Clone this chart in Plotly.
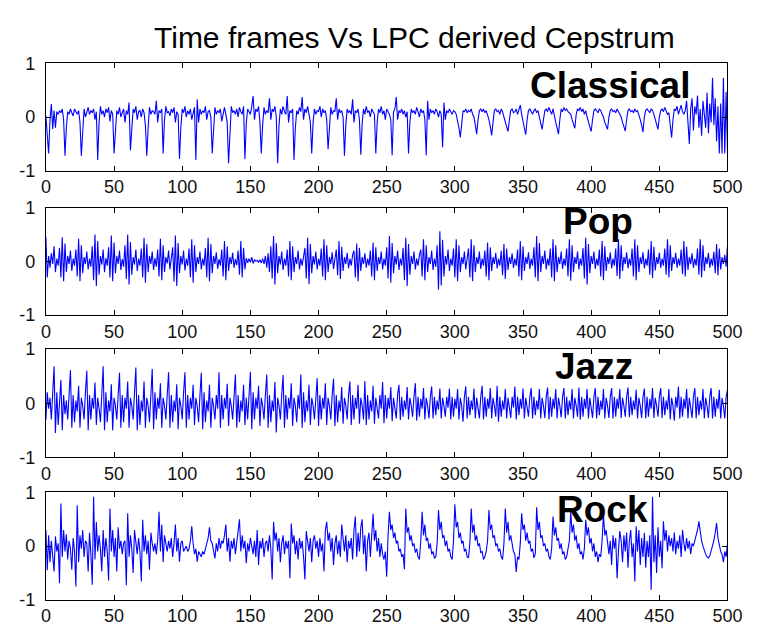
import plotly.graph_objects as go

TITLE = "Time frames Vs LPC derived Cepstrum"
GENRES = ["Classical", "Pop", "Jazz", "Rock"]
X_TICKS = [0, 50, 100, 150, 200, 250, 300, 350, 400, 450, 500]
Y_TICKS = [-1, 0, 1]
Y_TICK_LABELS = ["-1", "0", "1"]

CLASSICAL = [
    0.02, -0.32, -0.68, -0.05, 0.24, -0.22, 0.12, -0.2, 0.1, 0.05,
    0.12, 0.08, 0.15, -0.05, -0.72, -0.2, 0.1, 0.05, 0.15, 0.08,
    0.02, 0.15, 0.1, 0.05, 0.12, -0.1, -0.72, -0.25, 0.15, 0.0,
    0.1, 0.18, 0.05, 0.12, 0.08, 0.15, -0.05, 0.1, -0.8, -0.1,
    0.2, 0.05, 0.12, 0.0, 0.15, 0.08, 0.18, -0.08, 0.12, 0.05,
    -0.68, -0.15, 0.12, 0.05, 0.18, 0.0, 0.1, 0.15, -0.1, 0.12,
    0.05, 0.27, -0.62, -0.12, 0.15, 0.08, 0.2, -0.05, 0.1, 0.12,
    0.0, 0.15, 0.08, -0.15, -0.72, -0.2, 0.18, 0.05, 0.12, 0.1,
    0.05, 0.3, -0.1, 0.12, 0.08, 0.15, -0.68, -0.05, 0.2, 0.08,
    0.1, 0.02, 0.15, 0.08, 0.18, -0.1, 0.1, 0.05, -0.78, -0.2,
    0.15, 0.08, 0.2, 0.0, 0.12, 0.05, 0.15, -0.05, 0.1, 0.18,
    -0.8, 0.33, -0.1, 0.15, 0.05, 0.12, 0.08, 0.2, -0.05, 0.1,
    0.12, 0.0, -0.68, -0.15, 0.18, 0.05, 0.12, 0.08, 0.15, -0.08,
    0.1, 0.18, 0.05, -0.1, -0.86, -0.2, 0.2, 0.08, 0.12, 0.05,
    0.15, 0.0, 0.18, 0.1, 0.05, 0.2, -0.78, -0.12, 0.15, 0.1,
    0.05, 0.2, 0.39, -0.05, 0.15, 0.1, 0.2, -0.1, -0.68, -0.15,
    0.18, 0.05, 0.12, 0.08, 0.35, -0.05, 0.15, 0.1, 0.2, 0.0,
    -0.86, -0.15, 0.15, 0.05, 0.2, 0.1, 0.05, 0.39, -0.1, 0.12,
    0.08, 0.15, -0.8, -0.2, 0.12, 0.05, 0.18, 0.1, 0.37, -0.05,
    0.15, 0.08, 0.2, 0.05, -0.1, -0.68, -0.1, 0.15, 0.05, 0.12,
    0.1, 0.2, 0.0, 0.15, 0.08, 0.12, -0.05, -0.6, -0.15, 0.18,
    0.05, 0.12, 0.1, 0.35, -0.05, 0.15, 0.08, 0.12, 0.0, -0.72,
    -0.15, 0.15, 0.08, 0.12, 0.05, 0.33, -0.1, 0.12, 0.08, 0.15,
    -0.05, -0.7, -0.12, 0.15, 0.05, 0.2, 0.08, 0.12, 0.0, 0.15,
    0.1, 0.05, -0.68, -0.1, 0.15, 0.08, 0.2, 0.05, 0.12, -0.05,
    0.15, 0.1, 0.05, -0.05, -0.71, 0.1, 0.15, 0.37, -0.05, 0.12,
    0.08, 0.15, 0.05, 0.12, 0.0, 0.1, -0.68, -0.1, 0.15, 0.08,
    0.12, 0.05, 0.18, 0.1, 0.0, 0.15, 0.08, 0.12, -0.05, -0.71,
    0.3, -0.05, 0.15, 0.08, 0.12, 0.05, 0.15, 0.1, 0.0, 0.12,
    0.05, -0.56, 0.27, -0.05, 0.12, 0.08, 0.15, 0.1, 0.05, 0.12,
    0.1, 0.05, -0.05, -0.2, -0.38, -0.1, 0.12, 0.1, 0.15, 0.08,
    0.12, 0.1, 0.15, 0.05, 0.0, -0.15, -0.32, -0.05, 0.12, 0.15,
    0.1, 0.15, 0.08, 0.12, 0.05, -0.05, -0.18, -0.34, -0.1, 0.12,
    0.15, 0.1, 0.12, 0.05, 0.15, 0.1, 0.0, -0.1, -0.18, -0.27,
    -0.05, 0.12, 0.15, 0.08, 0.1, 0.15, 0.05, 0.12, 0.22, 0.05,
    -0.1, -0.2, -0.33, -0.05, 0.12, 0.15, 0.1, 0.05, 0.12, 0.15,
    0.08, 0.12, 0.0, -0.12, -0.23, -0.05, 0.12, 0.15, 0.1, 0.18,
    0.12, 0.05, 0.15, 0.0, -0.1, -0.2, -0.32, -0.05, 0.15, 0.1,
    0.18, 0.12, 0.15, 0.1, 0.08, 0.05, -0.05, -0.12, -0.21, 0.05,
    0.15, 0.12, 0.18, 0.1, 0.15, 0.05, 0.12, 0.0, -0.1, -0.18,
    -0.27, -0.05, 0.12, 0.15, 0.1, 0.08, 0.15, 0.12, 0.05, 0.0,
    -0.1, -0.15, -0.23, 0.0, 0.12, 0.15, 0.1, 0.12, 0.08, 0.15,
    0.1, 0.05, 0.0, -0.1, -0.18, -0.26, -0.05, 0.12, 0.15, 0.1,
    0.12, 0.08, 0.15, 0.1, 0.12, 0.05, -0.05, -0.15, -0.28, 0.0,
    0.12, 0.15, 0.1, 0.08, 0.15, 0.12, 0.05, -0.05, -0.12, -0.23,
    0.0, 0.12, 0.15, 0.1, 0.18, 0.12, 0.05, 0.08, -0.1, -0.38,
    -0.05, 0.15, 0.12, 0.2, 0.05, 0.15, 0.22, 0.1, 0.05, 0.12,
    0.3, -0.1, -0.5, 0.15, 0.35, -0.25, 0.2, 0.05, 0.4, -0.2,
    0.15, -0.35, 0.3, 0.05, -0.2, 0.45, -0.3, 0.25, -0.1, 0.73,
    -0.15, 0.35, -0.45, 0.2, -0.68, 0.25, -0.68, 0.73, -0.68, 0.47,
    -0.65,
]

POP = [
    0.45, -0.3, 0.1, -0.12, 0.15, -0.05, 0.28, -0.2, 0.05, -0.08,
    0.25, -0.3, 0.45, -0.37, 0.33, -0.2, 0.1, -0.05, 0.2, -0.18,
    0.05, -0.08, 0.22, -0.28, 0.42, -0.37, 0.3, -0.22, 0.08, -0.05,
    0.18, -0.15, 0.05, -0.1, 0.28, -0.35, 0.5, -0.46, 0.38, -0.25,
    0.1, -0.06, 0.22, -0.2, 0.06, -0.08, 0.26, -0.3, 0.48, -0.37,
    0.35, -0.22, 0.1, -0.05, 0.2, -0.16, 0.04, -0.1, 0.3, -0.33,
    0.5, -0.43, 0.36, -0.25, 0.08, -0.06, 0.22, -0.18, 0.05, -0.08,
    0.24, -0.3, 0.44, -0.4, 0.32, -0.2, 0.1, -0.05, 0.18, -0.16,
    0.06, -0.1, 0.22, -0.28, 0.42, -0.35, 0.3, -0.2, 0.08, -0.04,
    0.2, -0.15, 0.05, 0.26, -0.38, 0.48, -0.46, 0.34, -0.22, 0.1,
    -0.06, 0.2, -0.17, 0.05, -0.08, 0.24, -0.3, 0.41, -0.4, 0.3,
    -0.2, 0.08, -0.05, 0.18, -0.15, 0.05, -0.08, 0.25, -0.3, 0.44,
    -0.37, 0.32, -0.22, 0.1, -0.05, 0.17, -0.14, 0.04, -0.08, 0.22,
    -0.28, 0.38, -0.35, 0.28, -0.18, 0.08, -0.05, 0.16, -0.12, 0.04,
    -0.07, 0.2, -0.25, 0.38, -0.3, 0.25, -0.15, 0.06, -0.03, 0.05,
    -0.02, 0.08, -0.04, 0.03, 0.0, 0.02, -0.02, 0.03, -0.03, 0.05,
    -0.05, 0.1, -0.12, 0.15, -0.2, 0.28, -0.32, 0.47, -0.43, 0.34,
    -0.22, 0.1, -0.06, 0.18, -0.16, 0.05, -0.08, 0.22, -0.28, 0.38,
    -0.35, 0.28, -0.2, 0.08, -0.05, 0.2, -0.15, 0.05, -0.08, 0.12,
    0.25, -0.32, 0.44, -0.42, 0.32, -0.22, 0.1, -0.06, 0.18, -0.15,
    0.05, -0.08, 0.24, -0.28, 0.41, -0.35, 0.3, -0.2, 0.08, -0.05,
    0.17, -0.14, 0.04, 0.22, -0.26, 0.38, -0.33, 0.27, -0.18, 0.08,
    -0.05, 0.16, -0.13, 0.05, -0.08, 0.12, 0.2, -0.3, 0.33, -0.37,
    0.25, -0.18, 0.08, -0.05, 0.15, -0.12, 0.05, -0.08, 0.2, -0.28,
    0.35, -0.35, 0.26, -0.18, 0.08, -0.05, 0.18, -0.15, 0.05, -0.08,
    0.26, -0.32, 0.47, -0.4, 0.34, -0.22, 0.1, -0.06, 0.2, -0.16,
    0.05, -0.08, 0.25, -0.35, 0.44, -0.46, 0.32, -0.25, 0.1, -0.05,
    0.18, -0.15, 0.05, -0.08, 0.12, 0.22, -0.28, 0.41, -0.35, 0.3,
    -0.2, 0.08, -0.05, 0.2, -0.16, 0.05, -0.1, 0.3, -0.53, 0.56,
    -0.45, 0.4, -0.28, 0.1, -0.06, 0.22, -0.18, 0.05, -0.08, 0.24,
    -0.3, 0.41, -0.37, 0.3, -0.2, 0.08, -0.05, 0.18, -0.15, 0.04,
    0.24, -0.3, 0.41, -0.37, 0.3, -0.2, 0.08, -0.05, 0.18, -0.14,
    0.05, -0.08, 0.2, -0.28, 0.35, -0.35, 0.26, -0.18, 0.08, -0.05,
    0.16, -0.13, 0.05, -0.08, 0.2, -0.26, 0.32, -0.33, 0.24, -0.16,
    0.08, -0.05, 0.15, -0.12, 0.05, -0.08, 0.22, -0.28, 0.38, -0.35,
    0.28, -0.18, 0.08, -0.05, 0.17, -0.14, 0.05, -0.08, 0.26, -0.3,
    0.47, -0.37, 0.34, -0.2, 0.1, -0.05, 0.2, -0.15, 0.05, -0.08,
    0.24, -0.3, 0.41, -0.37, 0.3, -0.2, 0.08, -0.05, 0.18, -0.14,
    0.05, -0.08, 0.24, -0.28, 0.41, -0.36, 0.3, -0.2, 0.08, -0.05,
    0.18, -0.15, 0.05, -0.08, 0.25, -0.32, 0.44, -0.43, 0.32, -0.22,
    0.1, -0.05, 0.18, -0.14, 0.05, -0.08, 0.22, -0.28, 0.38, -0.35,
    0.28, -0.18, 0.08, -0.05, 0.17, -0.13, 0.05, -0.08, 0.24, -0.27,
    0.41, -0.33, 0.3, -0.18, 0.08, -0.05, 0.17, -0.13, 0.05, -0.08,
    0.24, -0.28, 0.41, -0.35, 0.3, -0.2, 0.08, -0.05, 0.17, -0.13,
    0.05, -0.08, 0.22, -0.25, 0.38, -0.31, 0.27, -0.17, 0.08, -0.05,
    0.16, -0.12, 0.05, -0.08, 0.24, -0.25, 0.41, -0.3, 0.3, -0.18,
    0.08, -0.05, 0.16, -0.12, 0.05, -0.08, 0.22, -0.24, 0.38, -0.28,
    0.27, -0.16, 0.08, -0.05, 0.15, -0.12, 0.05, -0.08, 0.24, -0.25,
    0.41, -0.3, 0.3, -0.18, 0.08, -0.05, 0.16, -0.12, 0.05, -0.08,
    0.18, -0.22, 0.32, -0.26, 0.24, -0.15, 0.08, -0.05, 0.12, -0.1,
    0.3,
]

JAZZ = [
    -0.3, 0.2, -0.1, 0.1, -0.3, 0.15, 0.68, -0.55, 0.2, -0.4,
    0.1, 0.43, -0.5, 0.15, -0.2, 0.05, -0.3, 0.15, 0.61, -0.45,
    0.15, -0.35, 0.05, -0.15, 0.32, -0.45, 0.1, -0.05, -0.3, 0.2,
    0.6, -0.5, 0.15, -0.3, 0.1, -0.1, 0.38, -0.4, 0.1, -0.1,
    -0.35, 0.15, 0.68, -0.5, 0.2, -0.35, 0.05, -0.15, 0.35, -0.5,
    0.1, -0.05, -0.3, 0.15, 0.56, -0.45, 0.15, -0.35, 0.1, -0.1,
    0.4, -0.45, 0.1, -0.05, -0.3, 0.2, 0.66, -0.5, 0.15, -0.4,
    0.05, -0.15, 0.4, -0.45, 0.1, -0.05, -0.35, 0.15, 0.63, -0.48,
    0.2, -0.3, 0.1, -0.1, 0.37, -0.45, 0.1, -0.05, -0.3, 0.15,
    0.57, -0.45, 0.15, -0.35, 0.05, -0.15, 0.35, -0.48, 0.1, -0.05,
    -0.3, 0.2, 0.57, -0.45, 0.15, -0.3, 0.1, -0.1, 0.34, -0.4,
    0.1, -0.05, -0.35, 0.15, 0.56, -0.48, 0.2, -0.35, 0.05, -0.15,
    0.34, -0.45, 0.1, -0.05, -0.3, 0.15, -0.1, 0.57, -0.45, 0.15,
    -0.3, 0.1, -0.1, 0.36, -0.42, 0.1, -0.05, -0.3, 0.15, 0.53,
    -0.45, 0.15, -0.35, 0.05, -0.15, 0.34, -0.4, 0.1, -0.3, 0.15,
    0.58, -0.48, 0.2, -0.3, 0.1, -0.1, 0.32, -0.42, 0.1, -0.05,
    -0.3, 0.15, 0.53, -0.45, 0.15, -0.35, 0.05, -0.15, 0.39, -0.54,
    0.1, -0.05, -0.3, 0.15, 0.52, -0.45, 0.15, -0.3, 0.1, -0.1,
    0.37, -0.42, 0.1, -0.05, -0.35, 0.15, -0.1, 0.53, -0.45, 0.2,
    -0.35, 0.05, -0.15, 0.34, -0.4, 0.1, -0.05, -0.3, 0.15, 0.46,
    -0.42, 0.15, -0.3, 0.1, -0.1, 0.37, -0.4, 0.1, -0.05, -0.3,
    0.15, 0.45, -0.42, 0.15, -0.35, 0.05, -0.15, 0.3, -0.38, 0.1,
    -0.05, -0.3, 0.15, 0.4, -0.4, 0.15, -0.3, 0.1, -0.1, 0.34,
    -0.38, 0.1, -0.05, -0.3, 0.41, -0.4, 0.15, -0.3, 0.05, -0.15,
    0.32, -0.38, 0.1, -0.05, -0.28, 0.15, -0.1, 0.39, -0.37, 0.15,
    -0.28, 0.1, -0.1, 0.3, -0.33, 0.1, -0.05, -0.28, 0.15, 0.34,
    -0.31, 0.12, -0.25, 0.05, -0.12, 0.3, -0.3, 0.1, -0.05, -0.25,
    0.12, 0.37, -0.32, 0.12, -0.25, 0.08, -0.1, 0.28, -0.3, 0.1,
    -0.05, -0.28, 0.12, 0.31, -0.28, 0.12, -0.22, 0.05, -0.12, 0.27,
    -0.28, 0.1, -0.05, -0.25, 0.12, -0.08, 0.27, -0.3, 0.12, -0.25,
    0.08, -0.1, 0.26, -0.3, 0.1, -0.05, -0.34, 0.12, 0.31, -0.28,
    0.12, -0.22, 0.05, -0.12, 0.27, -0.28, 0.1, -0.05, -0.28, 0.12,
    0.32, -0.3, 0.12, -0.25, 0.08, -0.1, 0.28, -0.28, 0.1, -0.05,
    -0.25, 0.32, -0.34, 0.12, -0.25, 0.05, -0.12, 0.26, -0.28, 0.1,
    -0.05, -0.27, 0.12, -0.08, 0.31, -0.3, 0.12, -0.22, 0.08, -0.1,
    0.27, -0.28, 0.1, -0.05, -0.25, 0.12, 0.28, -0.28, 0.12, -0.22,
    0.05, -0.12, 0.26, -0.28, 0.1, -0.05, -0.27, 0.12, 0.29, -0.3,
    0.12, -0.25, 0.08, -0.1, 0.26, -0.28, 0.1, -0.05, -0.26, 0.12,
    0.28, -0.28, 0.12, -0.22, 0.05, -0.12, 0.26, -0.28, 0.1, -0.05,
    -0.25, 0.29, -0.3, 0.12, -0.25, 0.08, -0.1, 0.26, -0.28, 0.1,
    -0.05, -0.27, 0.12, 0.28, -0.28, 0.12, -0.22, 0.05, -0.12, 0.26,
    -0.28, 0.1, -0.05, -0.27, 0.12, 0.28, -0.28, 0.12, -0.25, 0.08,
    -0.1, 0.26, -0.27, 0.1, -0.05, -0.25, 0.12, 0.29, -0.26, 0.12,
    -0.22, 0.05, -0.12, 0.25, -0.28, 0.1, -0.05, -0.27, 0.12, 0.27,
    -0.28, 0.12, -0.25, 0.08, -0.1, 0.28, -0.27, 0.1, -0.05, -0.25,
    0.12, 0.28, -0.27, 0.12, -0.22, 0.05, -0.12, 0.26, -0.3, 0.1,
    -0.05, -0.32, 0.12, -0.08, 0.31, -0.28, 0.12, -0.25, 0.08, -0.1,
    0.26, -0.28, 0.1, -0.05, -0.27, 0.12, 0.28, -0.28, 0.12, -0.22,
    0.05, -0.12, 0.26, -0.28, 0.1, -0.05, -0.27, 0.12, 0.28, -0.28,
    0.12, -0.25, 0.08, -0.1, 0.25, -0.28, 0.1, -0.05, -0.28, 0.12,
    0.25,
]

ROCK = [
    0.3, -0.45, 0.2, -0.3, 0.1, -0.2, -0.47, 0.18, -0.1, 0.05,
    -0.69, 0.79, -0.2, 0.3, -0.1, 0.22, -0.25, 0.1, -0.05, -0.44,
    0.15, -0.1, -0.75, 0.76, -0.3, 0.2, -0.05, 0.3, -0.2, 0.1,
    0.05, -0.47, 0.25, -0.15, -0.72, 0.92, -0.25, 0.45, -0.1, 0.2,
    -0.05, -0.47, 0.3, -0.2, 0.15, -0.1, -0.64, 0.7, -0.1, 0.3,
    -0.2, 0.15, -0.47, 0.35, -0.05, 0.1, -0.15, 0.05, 0.1, -0.73,
    0.61, -0.2, 0.2, -0.05, -0.5, 0.3, 0.1, -0.15, 0.15, -0.1,
    -0.66, 0.49, -0.1, 0.2, -0.15, 0.1, -0.44, 0.25, 0.05, -0.1,
    0.05, -0.15, 0.1, 0.64, -0.1, 0.4, -0.3, 0.2, 0.05, -0.1,
    0.1, -0.05, 0.15, -0.2, 0.05, 0.4, -0.1, 0.15, -0.29, 0.05,
    0.1, -0.1, -0.05, 0.0, -0.1, -0.05, 0.1, 0.37, 0.05, -0.15,
    -0.05, -0.29, -0.1, -0.15, -0.2, -0.1, -0.15, -0.05, 0.05, 0.15,
    0.35, 0.1, 0.05, -0.1, -0.23, 0.05, -0.1, 0.15, -0.05, 0.1,
    0.05, 0.2, 0.4, -0.1, 0.15, -0.29, 0.1, -0.05, 0.15, -0.15,
    0.1, 0.25, 0.5, -0.1, 0.2, -0.05, 0.1, -0.32, 0.05, -0.1,
    0.15, 0.0, -0.15, 0.1, -0.2, 0.3, -0.35, 0.1, -0.05, 0.15,
    -0.2, 0.05, 0.1, -0.1, 0.2, -0.05, -0.62, 0.45, 0.1, 0.25,
    -0.1, 0.15, -0.3, 0.05, 0.2, -0.15, 0.1, -0.05, 0.1, -0.6,
    0.42, 0.05, 0.2, -0.15, 0.1, -0.25, 0.15, -0.05, 0.1, -0.2,
    -0.62, 0.28, 0.05, -0.1, 0.15, -0.3, 0.1, 0.2, -0.05, 0.1,
    -0.2, 0.15, -0.1, 0.05, -0.47, 0.3, 0.45, 0.1, 0.25, -0.1,
    0.15, -0.35, 0.05, 0.2, -0.15, 0.1, -0.2, 0.4, 0.15, -0.1,
    0.2, -0.3, 0.1, -0.05, 0.15, -0.25, 0.3, 0.55, -0.2, 0.25,
    -0.1, 0.35, 0.5, -0.15, 0.2, -0.47, 0.1, 0.25, -0.2, 0.3,
    0.6, 0.1, 0.3, -0.1, 0.15, -0.2, 0.05, -0.15, -0.25, -0.1,
    -0.57, 0.2, 0.64, 0.3, 0.4, 0.15, 0.25, 0.05, 0.1, -0.1,
    -0.05, -0.2, -0.15, -0.43, 0.7, 0.25, 0.35, 0.1, 0.2, 0.0,
    0.05, -0.12, -0.05, -0.2, -0.25, 0.1, 0.64, 0.2, 0.4, 0.1,
    0.15, -0.05, 0.05, -0.15, -0.1, -0.22, -0.2, 0.05, 0.67, 0.3,
    0.45, 0.15, 0.2, 0.0, 0.1, -0.1, -0.05, -0.2, -0.25, 0.1,
    0.78, 0.35, 0.45, 0.15, 0.25, 0.05, 0.1, -0.1, -0.05, -0.2,
    -0.22, 0.05, 0.7, 0.25, 0.4, 0.1, 0.2, 0.0, 0.05, -0.12,
    -0.1, -0.25, -0.2, -0.1, 0.1, 0.67, 0.3, 0.4, 0.15, 0.2,
    0.0, 0.05, -0.1, -0.05, -0.2, -0.25, 0.05, 0.7, 0.25, 0.45,
    0.1, 0.2, 0.0, -0.1, -0.15, -0.48, -0.2, -0.25, 0.05, 0.61,
    0.3, 0.4, 0.1, 0.25, 0.05, 0.1, -0.1, -0.05, -0.22, -0.15,
    0.72, 0.3, 0.45, 0.15, 0.2, 0.0, 0.05, -0.1, -0.05, -0.2,
    -0.25, -0.05, 0.55, 0.2, 0.35, 0.1, 0.15, -0.05, 0.05, -0.15,
    -0.1, -0.25, -0.2, -0.05, 0.1, 0.64, 0.25, 0.4, 0.1, 0.2,
    -0.05, 0.05, -0.15, -0.1, -0.25, -0.05, 0.49, 0.2, 0.35, 0.05,
    0.15, -0.1, 0.05, -0.2, -0.1, -0.3, -0.15, -0.2, 0.1, 0.58,
    0.2, 0.3, 0.05, -0.15, 0.1, -0.35, 0.2, -0.05, 0.15, -0.6,
    -0.1, 0.28, 0.1, -0.3, 0.2, -0.1, 0.25, -0.4, 0.1, 0.3,
    -0.2, 0.05, -0.66, 0.37, -0.1, 0.3, -0.35, 0.15, -0.2, 0.25,
    -0.4, 0.1, -0.2, 0.2, -0.81, 0.92, -0.3, 0.2, -0.5, 0.35,
    -0.2, 0.1, -0.41, 0.46, 0.1, 0.3, -0.1, 0.2, 0.0, 0.15,
    -0.1, 0.25, -0.15, 0.1, -0.05, 0.2, -0.2, 0.3, 0.05, -0.1,
    0.15, -0.05, 0.1, -0.15, 0.05, 0.0, 0.1, 0.2, 0.3, 0.46,
    0.25, 0.1, 0.0, -0.1, -0.15, -0.2, -0.22, -0.18, -0.1, 0.0,
    0.1, 0.25, 0.43, 0.15, 0.0, -0.1, -0.15, -0.3, -0.1, -0.2,
    0.05,
]

SERIES = [CLASSICAL, POP, JAZZ, ROCK]

W, H = 761, 636
# plot-area pixel boxes (top, bottom) for the four panels
PANELS = [(55, 166), (204, 315), (350, 462), (498, 609)]
X_LEFT, X_RIGHT = 42, 742
# genre label placement (frame, value) inside each panel
LABEL_POS = [(414, 0.586), (405, 0.742), (402, 0.679), (408, 0.68)]
FONT = "Liberation Sans, Arial, sans-serif"
TICK_FONT = dict(family=FONT, size=18, color="#111111")

fig = go.Figure()
layout = dict(
    width=W, height=H,
    margin=dict(l=0, r=0, t=0, b=0),
    paper_bgcolor="white", plot_bgcolor="white",
    showlegend=False,
    font=dict(family=FONT, size=18, color="#111111"),
)

annotations = []
for i, (vals, name) in enumerate(zip(SERIES, GENRES)):
    n = i + 1
    xa = "xaxis" if n == 1 else f"xaxis{n}"
    ya = "yaxis" if n == 1 else f"yaxis{n}"
    xr = "x" if n == 1 else f"x{n}"
    yr = "y" if n == 1 else f"y{n}"
    frames = list(range(len(vals)))
    fig.add_trace(go.Scatter(
        x=frames, y=vals, mode="lines",
        line=dict(color="#0000FF", width=1.1),
        xaxis=xr, yaxis=yr, hoverinfo="skip",
    ))
    top, bot = PANELS[i]
    layout[xa] = dict(
        domain=[X_LEFT / W, X_RIGHT / W], anchor=yr,
        range=[0, 500], tickmode="array", tickvals=X_TICKS,
        showline=True, linecolor="black", linewidth=1, mirror="ticks",
        ticks="inside", ticklen=5, tickcolor="black", tickwidth=1,
        showgrid=False, zeroline=False, tickfont=TICK_FONT,
    )
    layout[ya] = dict(
        domain=[1 - bot / H, 1 - top / H], anchor=xr,
        range=[-1, 1], tickmode="array", tickvals=Y_TICKS, ticktext=Y_TICK_LABELS,
        showline=True, linecolor="black", linewidth=1, mirror="ticks",
        ticks="inside", ticklen=5, tickcolor="black", tickwidth=1,
        showgrid=False, zeroline=False, tickfont=TICK_FONT,
        ticklabelstandoff=6,
    )
    lx, ly = LABEL_POS[i]
    annotations.append(dict(
        text=f"<b>{name}</b>", xref=xr, yref=yr, x=lx, y=ly,
        showarrow=False, xanchor="center", yanchor="middle",
        font=dict(family=FONT, size=37, color="black"),
    ))

annotations.append(dict(
    text=TITLE, xref="paper", yref="paper",
    x=421 / W, y=1 - 28.3 / H, xanchor="center", yanchor="middle",
    showarrow=False, font=dict(family=FONT, size=30, color="black"),
))
layout["annotations"] = annotations
fig.update_layout(**layout)
fig.write_html("out.html")
